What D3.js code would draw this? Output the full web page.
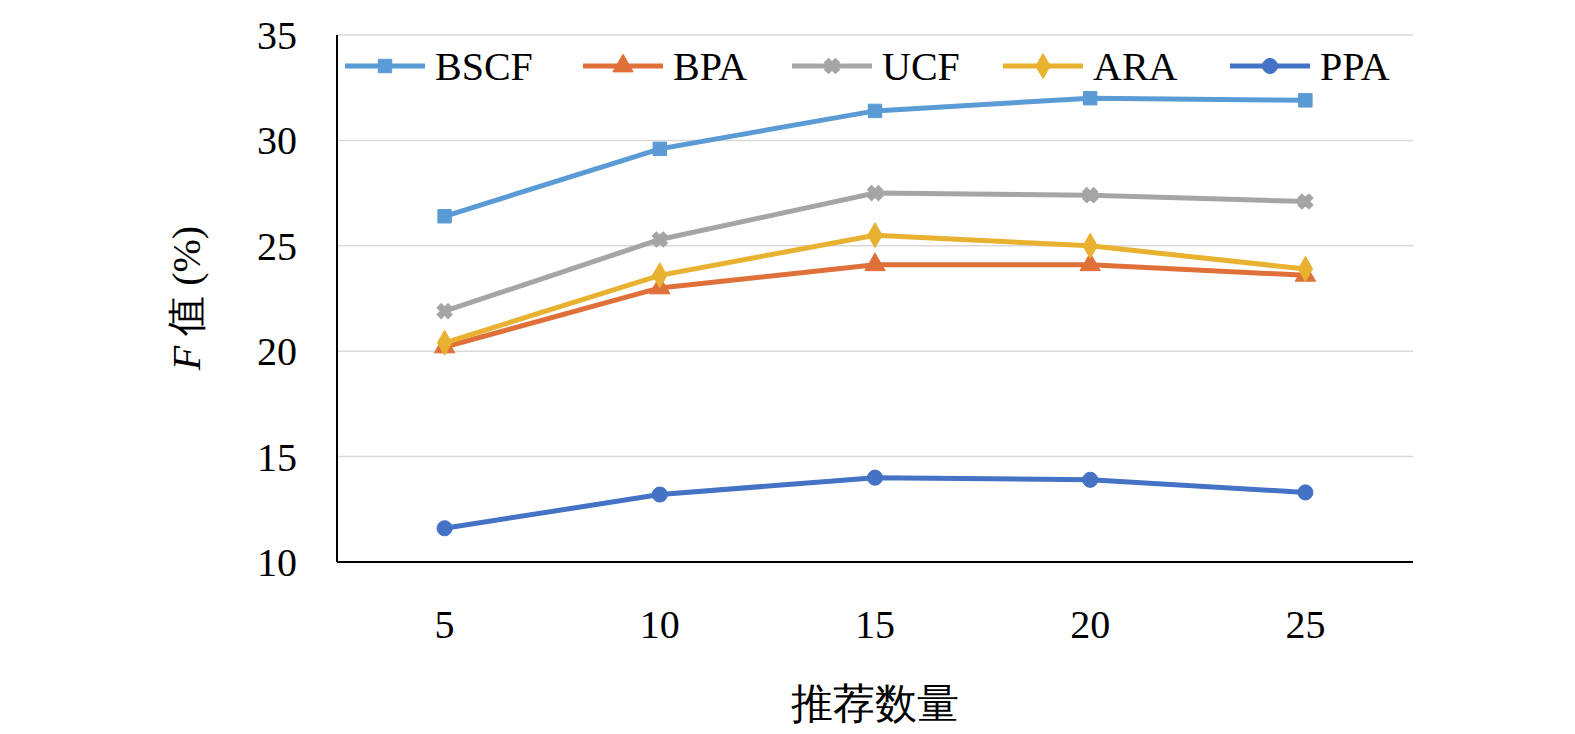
<!DOCTYPE html>
<html><head><meta charset="utf-8">
<script src="https://cdn.jsdelivr.net/npm/d3@7"></script>
<style>body{margin:0;background:#fff}</style></head>
<body><svg id="c" width="1575" height="734"></svg>
<script>
const categories=["5","10","15","20","25"];
const seriesNames=["BSCF","BPA","UCF","ARA","PPA"];
const BSCF=[26.4,29.6,31.4,32.0,31.9];
const BPA=[20.2,23.0,24.1,24.1,23.6];
const UCF=[21.9,25.3,27.5,27.4,27.1];
const ARA=[20.4,23.6,25.5,25.0,23.9];
const PPA=[11.6,13.2,14.0,13.9,13.3];
const yTicks=[10,15,20,25,30,35];
const values=[BSCF,BPA,UCF,ARA,PPA];
const colors=["#5b9bd5","#e0703a","#a5a5a5","#e8b130","#4472c4"];
const shapes=[d3.symbolSquare,d3.symbolTriangle,d3.symbolCross,d3.symbolDiamond,d3.symbolCircle];
const svg=d3.select("#c");
const L=337,R=1413,T=35,B=562;
const x=d3.scaleBand().domain(categories).range([L,R]);
const y=d3.scaleLinear().domain([10,35]).range([B,T]);
const font="'Liberation Serif','Times New Roman',serif";
svg.append("g").selectAll("line").data(yTicks.slice(1)).join("line")
 .attr("x1",L).attr("x2",R).attr("y1",d=>y(d)).attr("y2",d=>y(d)).attr("stroke","#d9d9d9").attr("stroke-width",1.5);
svg.append("line").attr("x1",L).attr("x2",L).attr("y1",T).attr("y2",B).attr("stroke","#000").attr("stroke-width",2);
svg.append("line").attr("x1",L).attr("x2",R).attr("y1",B).attr("y2",B).attr("stroke","#000").attr("stroke-width",2);
svg.append("g").selectAll("text").data(yTicks).join("text").attr("x",297).attr("y",d=>y(d)+14)
 .attr("text-anchor","end").attr("font-family",font).attr("font-size",40).text(d=>d);
svg.append("g").selectAll("text").data(categories).join("text").attr("x",d=>x(d)+x.bandwidth()/2).attr("y",638)
 .attr("text-anchor","middle").attr("font-family",font).attr("font-size",40).text(d=>d);
svg.append("text").attr("x",875).attr("y",718).attr("text-anchor","middle").attr("font-family",font).attr("font-size",42).text("推荐数量");
const yl=svg.append("text").attr("transform","translate(200,298) rotate(-90)").attr("text-anchor","middle").attr("font-family",font).attr("font-size",40);
yl.append("tspan").attr("font-style","italic").text("F");
yl.append("tspan").text(" 值 (%)");
const line=d3.line().x((d,i)=>x(categories[i])+x.bandwidth()/2).y(d=>y(d));
values.forEach((v,k)=>{
 const g=svg.append("g");
 g.append("path").attr("d",line(v)).attr("fill","none").attr("stroke",colors[k]).attr("stroke-width",5);
 g.selectAll("path.m").data(v).join("path").attr("class","m")
  .attr("transform",(d,i)=>`translate(${x(categories[i])+x.bandwidth()/2},${y(d)})${k==2?" rotate(45)":""}`)
  .attr("d",d3.symbol().type(shapes[k]).size(k==2?120:180)).attr("fill",colors[k]).attr("stroke",colors[k]).attr("stroke-width",k==2?2:1);
});
const lx=[345,583,792,1003,1230];
seriesNames.forEach((n,k)=>{
 const g=svg.append("g");
 g.append("line").attr("x1",lx[k]).attr("x2",lx[k]+80).attr("y1",66).attr("y2",66).attr("stroke",colors[k]).attr("stroke-width",5);
 g.append("path").attr("transform",`translate(${lx[k]+40},66)${k==2?" rotate(45)":""}`)
  .attr("d",d3.symbol().type(shapes[k]).size(k==2?120:180)).attr("fill",colors[k]).attr("stroke",colors[k]).attr("stroke-width",k==2?2:1);
 g.append("text").attr("x",lx[k]+90).attr("y",80).attr("font-family",font).attr("font-size",40).text(n);
});
</script></body></html>
